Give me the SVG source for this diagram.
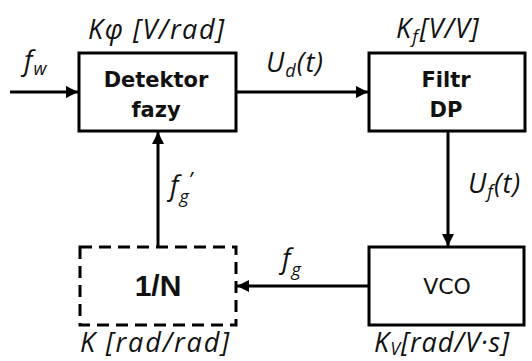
<svg xmlns="http://www.w3.org/2000/svg" width="532" height="361" viewBox="0 0 532 361">
<style>
.box{fill:#fff;stroke:#000;stroke-width:3}
.dash{fill:#fff;stroke:#000;stroke-width:3;stroke-dasharray:12 7}
.line{fill:none;stroke:#000;stroke-width:3}
.bt{font-family:"DejaVu Sans",sans-serif;font-weight:bold;font-size:21px;text-anchor:middle;fill:#111}
.vt{font-family:"DejaVu Sans",sans-serif;font-size:22px;text-anchor:middle;fill:#111}
.nt{font-family:"Liberation Sans",Arial,sans-serif;font-weight:bold;font-size:30px;text-anchor:middle;fill:#111}
.lab{font-family:"Open Sans","Noto Sans",sans-serif;font-style:italic;font-size:27px;letter-spacing:1px;fill:#111}
.sub{font-size:18px;letter-spacing:0}
</style>
<defs>
<marker id="ah" viewBox="0 0 10 10" refX="10" refY="5" markerWidth="4" markerHeight="4" orient="auto" markerUnits="strokeWidth">
<path d="M0,0 L10,5 L0,10 z" fill="#000"/>
</marker>
</defs>
<g id="connectors">
<line class="line" x1="10" y1="92" x2="78" y2="92" marker-end="url(#ah)"/>
<line class="line" x1="236" y1="92" x2="368" y2="92" marker-end="url(#ah)"/>
<line class="line" x1="448" y1="131" x2="448" y2="246" marker-end="url(#ah)"/>
<line class="line" x1="369" y1="286" x2="237" y2="286" marker-end="url(#ah)"/>
<line class="line" x1="158" y1="247" x2="158" y2="132" marker-end="url(#ah)"/>
</g>
<g id="detektor">
<rect class="box" x="79" y="53" width="157" height="78"/>
<text class="bt" x="156" y="87">Detektor</text>
<text class="bt" x="156" y="117">fazy</text>
<text class="lab" x="88" y="39" textLength="137" lengthAdjust="spacing">Kφ [V/rad]</text>
</g>
<g id="filtr">
<rect class="box" x="369" y="53" width="156" height="78"/>
<text class="bt" x="446" y="87">Filtr</text>
<text class="bt" x="446" y="117">DP</text>
<text class="lab" x="396" y="38">K<tspan class="sub" dy="5">f</tspan><tspan dy="-5" dx="2">[V/V]</tspan></text>
</g>
<g id="vco">
<rect class="box" x="369" y="247" width="155" height="78"/>
<text class="vt" x="447" y="294">VCO</text>
<text class="lab" x="374" y="352">K<tspan class="sub" dy="3">V</tspan><tspan dy="-3" dx="1">[rad/V·s]</tspan></text>
</g>
<g id="divider">
<rect class="dash" x="80" y="247" width="156" height="78"/>
<text class="nt" x="158" y="296">1/N</text>
<text class="lab" x="80" y="352" textLength="150" lengthAdjust="spacing">K [rad/rad]</text>
</g>
<g id="labels">
<text class="lab" x="24" y="70">f<tspan class="sub" dy="5">w</tspan></text>
<text class="lab" x="266" y="72">U<tspan class="sub" dy="5">d</tspan><tspan dy="-5" dx="1">(t)</tspan></text>
<text class="lab" x="468" y="193">U<tspan class="sub" dy="5">f</tspan><tspan dy="-5" dx="1">(t)</tspan></text>
<text class="lab" x="170" y="195">f<tspan class="sub" dy="8">g</tspan><tspan dy="-17" font-size="20">’</tspan></text>
<text class="lab" x="282" y="268">f<tspan class="sub" dy="8">g</tspan></text>
</g>
</svg>
